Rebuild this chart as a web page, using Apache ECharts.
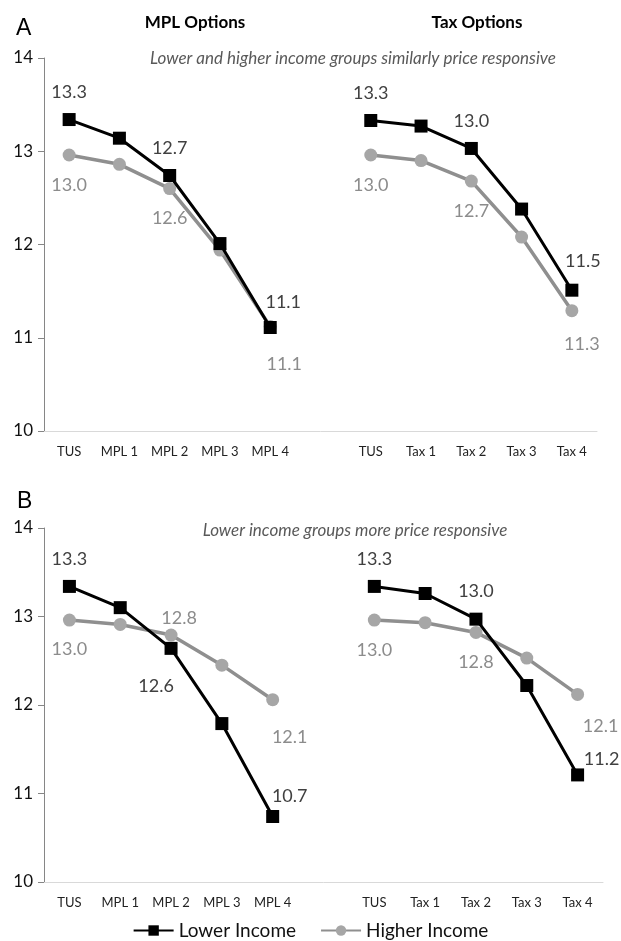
<!DOCTYPE html>
<html>
<head>
<meta charset="utf-8">
<style>html,body{margin:0;padding:0;background:#fff}#chart{width:621px;height:941px}</style>
<script src="https://cdn.jsdelivr.net/npm/echarts@6/dist/echarts.min.js"></script>
</head>
<body>
<div id="chart"></div>
<script>
// ---- data ----
const mplCategories = ['TUS', 'MPL 1', 'MPL 2', 'MPL 3', 'MPL 4'];
const taxCategories = ['TUS', 'Tax 1', 'Tax 2', 'Tax 3', 'Tax 4'];
const yMin = 10, yMax = 14, yStep = 1;
const seriesNames = ['Lower Income', 'Higher Income'];
// Panel A: similar responsiveness
const aLowerMpl = [13.34, 13.14, 12.74, 12.01, 11.11];
const aHigherMpl = [12.96, 12.86, 12.60, 11.94, 11.12];
const aLowerTax = [13.33, 13.27, 13.03, 12.38, 11.51];
const aHigherTax = [12.96, 12.90, 12.68, 12.08, 11.29];
// Panel B: lower income more responsive
const bLowerMpl = [13.34, 13.10, 12.64, 11.79, 10.74];
const bHigherMpl = [12.96, 12.91, 12.79, 12.45, 12.06];
const bLowerTax = [13.34, 13.26, 12.97, 12.22, 11.21];
const bHigherTax = [12.96, 12.93, 12.82, 12.53, 12.12];

// ---- build ----
const FONT = 'Lato, "Open Sans", sans-serif';
const categories = mplCategories.concat([''], taxCategories);
function joinData(m, t) { return m.concat(['-'], t); }

// which points carry a value label, and where (style only)
const labelSpec = {
  aLow:  {0: [0, -27], 2: [0, -27], 4: [13, -25], 6: [0, -27], 8: [0, -27], 10: [11, -29]},
  aHigh: {0: [0, 30], 2: [0, 30], 4: [14, 38], 6: [0, 30], 8: [0, 30], 10: [10, 33]},
  bLow:  {0: [0, -27], 2: [-15, 38], 4: [17, -20], 6: [0, -27], 8: [0, -28], 10: [24, -16]},
  bHigh: {0: [0, 29], 2: [8, -17], 4: [17, 37], 6: [0, 30], 8: [0, 30], 10: [23, 32]}
};

function withLabels(values, spec, color) {
  return values.map((v, i) => {
    if (v === '-' || !spec[i]) return v;
    return {
      value: v,
      label: {
        show: true, position: 'inside', offset: spec[i],
        formatter: p => Number(p.value).toFixed(1),
        color: color, fontSize: 18, fontFamily: FONT
      }
    };
  });
}

const lowStyle = {
  type: 'line', symbol: 'rect', symbolSize: 13,
  lineStyle: {color: '#000', width: 3}, itemStyle: {color: '#000'},
  label: {show: false}, z: 3, animation: false
};
const highStyle = {
  type: 'line', symbol: 'circle', symbolSize: 13,
  lineStyle: {color: '#8f8f8f', width: 3.5}, itemStyle: {color: '#a6a6a6'},
  label: {show: false}, z: 2, animation: false
};

function xAxis(gridIndex) {
  return {
    type: 'category', gridIndex, data: categories, boundaryGap: true,
    axisLine: {lineStyle: {color: '#d9d9d9', width: 1}},
    axisTick: {show: false},
    axisLabel: {color: '#222', fontSize: 13, fontFamily: FONT, margin: 14, interval: 0}
  };
}
function yAxis(gridIndex) {
  return {
    type: 'value', gridIndex, min: yMin, max: yMax, interval: yStep,
    axisLine: {show: true, lineStyle: {color: '#868686', width: 1}},
    axisTick: {show: true, length: 6, lineStyle: {color: '#868686'}},
    splitLine: {show: false},
    axisLabel: {color: '#111', fontSize: 17, fontFamily: FONT, margin: 11}
  };
}

const chart = echarts.init(document.getElementById('chart'), null, {renderer: 'canvas'});
chart.setOption({
  backgroundColor: '#fff',
  animation: false,
  title: [
    {text: 'A', left: 11, top: 12, textStyle: {fontSize: 23, fontWeight: 'normal', color: '#000', fontFamily: '"Liberation Sans", Arial'}},
    {text: 'B', left: 12, top: 485, textStyle: {fontSize: 23, fontWeight: 'normal', color: '#000', fontFamily: '"Liberation Sans", Arial'}},
    {text: 'MPL Options', left: 190, top: 9, textAlign: 'center', textStyle: {fontSize: 17, fontWeight: 'bold', color: '#000', fontFamily: FONT}},
    {text: 'Tax Options', left: 472, top: 9, textAlign: 'center', textStyle: {fontSize: 17, fontWeight: 'bold', color: '#000', fontFamily: FONT}},
    {text: 'Lower and higher income groups similarly price responsive', left: 348, top: 45, textAlign: 'center', textStyle: {fontSize: 17, fontStyle: 'italic', fontWeight: 'normal', color: '#595959', fontFamily: FONT}},
    {text: 'Lower income groups more price responsive', left: 350, top: 517, textAlign: 'center', textStyle: {fontSize: 17, fontStyle: 'italic', fontWeight: 'normal', color: '#595959', fontFamily: FONT}}
  ],
  grid: [
    {left: 44, right: 24, top: 58, height: 373},
    {left: 44, right: 18, top: 528, height: 354}
  ],
  xAxis: [xAxis(0), xAxis(1)],
  yAxis: [yAxis(0), yAxis(1)],
  legend: {
    data: seriesNames, top: 916, left: 'center', itemWidth: 40, itemHeight: 13, itemGap: 24,
    textStyle: {fontSize: 19, color: '#111', fontFamily: FONT}
  },
  series: [
    Object.assign({name: seriesNames[1], xAxisIndex: 0, yAxisIndex: 0, data: withLabels(joinData(aHigherMpl, aHigherTax), labelSpec.aHigh, '#8c8c8c')}, highStyle),
    Object.assign({name: seriesNames[0], xAxisIndex: 0, yAxisIndex: 0, data: withLabels(joinData(aLowerMpl, aLowerTax), labelSpec.aLow, '#404040')}, lowStyle),
    Object.assign({name: seriesNames[1], xAxisIndex: 1, yAxisIndex: 1, data: withLabels(joinData(bHigherMpl, bHigherTax), labelSpec.bHigh, '#8c8c8c')}, highStyle),
    Object.assign({name: seriesNames[0], xAxisIndex: 1, yAxisIndex: 1, data: withLabels(joinData(bLowerMpl, bLowerTax), labelSpec.bLow, '#404040')}, lowStyle)
  ]
});
</script>
</body>
</html>
